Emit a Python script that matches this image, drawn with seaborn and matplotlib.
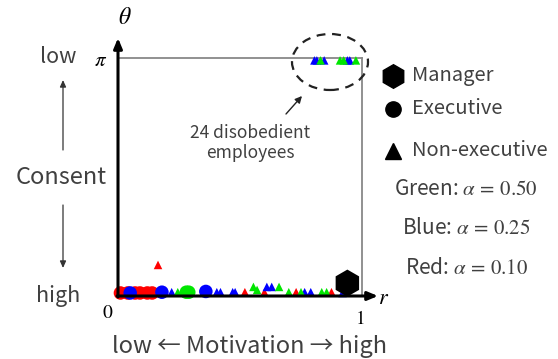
import numpy as np
import pandas as pd
import matplotlib
matplotlib.use("Agg")
import matplotlib.pyplot as plt
from matplotlib.patches import Ellipse
import seaborn as sns

# ---- data ----
# bottom row (obedient employees), r = motivation, theta = consent angle
red_exec_r = [0.01, 0.04, 0.07, 0.09, 0.12, 0.14]
red_exec_t = [0.04, 0.04, 0.04, 0.04, 0.04, 0.04]
blue_exec_r = [0.05, 0.18, 0.36]
blue_exec_t = [0.04, 0.05, 0.06]
green_exec_r = [0.28, 0.29]
green_exec_t = [0.05, 0.05]

red_tri_r = [0.164, 0.52, 0.60, 0.73, 0.875]
red_tri_t = [0.41, 0.05, 0.05, 0.05, 0.05]
blue_tri_r = [0.22, 0.405, 0.42, 0.47, 0.48, 0.61, 0.63, 0.765, 0.79, 0.92]
blue_tri_t = [0.05, 0.05, 0.05, 0.05, 0.05, 0.12, 0.12, 0.05, 0.05, 0.04]
green_tri_r = [0.245, 0.555, 0.57, 0.66, 0.70, 0.75, 0.835, 0.855]
green_tri_t = [0.05, 0.12, 0.08, 0.12, 0.05, 0.05, 0.05, 0.05]

# top row (24 disobedient employees)
top_blue_r = [0.805, 0.815, 0.845, 0.94, 0.95]
top_green_r = [0.83, 0.91, 0.925, 0.975]
top_theta = 3.11

manager_r = [0.94]
manager_t = [0.17]

legend_roles = ["Manager", "Executive", "Non-executive"]
alpha_labels = ["Green: $\\alpha\\,=\\,0.50$", "Blue: $\\alpha\\,=\\,0.25$",
                "Red: $\\alpha\\,=\\,0.10$"]


def rows(r, t, colour, role):
    if np.isscalar(t):
        t = [t] * len(r)
    return [{"r": a, "theta": b, "colour": colour, "role": role} for a, b in zip(r, t)]


records = []
records += rows(red_exec_r, red_exec_t, "red", "Executive")
records += rows(blue_exec_r, blue_exec_t, "blue", "Executive")
records += rows(green_exec_r, green_exec_t, "green", "Executive")
records += rows(red_tri_r, red_tri_t, "red", "Non-executive")
records += rows(blue_tri_r, blue_tri_t, "blue", "Non-executive")
records += rows(green_tri_r, green_tri_t, "green", "Non-executive")
records += rows(top_blue_r, top_theta, "blue", "Non-executive")
records += rows(top_green_r, top_theta, "green", "Non-executive")
records += rows(manager_r, manager_t, "black", "Manager")
df = pd.DataFrame(records)

sns.set_style("white")
plt.rcParams["font.family"] = ["Noto Sans CJK JP", "DejaVu Sans"]
plt.rcParams["mathtext.fontset"] = "stix"

W, H = 558, 359
fig = plt.figure(figsize=(W / 100, H / 100), dpi=100)
x0, x1, y0, y1 = 118, 362, 296, 58
ax = fig.add_axes([x0 / W, 1 - y0 / H, (x1 - x0) / W, (y0 - y1) / H])

palette = {"red": "#ff0000", "blue": "#0000ff", "green": "#00e600", "black": "#000000"}
markers = {"Manager": "h", "Executive": "o", "Non-executive": "^"}
sizes = {"Manager": 380, "Executive": 95, "Non-executive": 38}
sns.scatterplot(data=df, x="r", y="theta", hue="colour", style="role", size="role",
                palette=palette, markers=markers, sizes=sizes, linewidth=0,
                legend=False, ax=ax, clip_on=False, zorder=3)

ax.set_xlim(0, 1)
ax.set_ylim(0, np.pi)
ax.set_xticks([])
ax.set_yticks([])
ax.set_xlabel("")
ax.set_ylabel("")
for s in ["left", "bottom"]:
    ax.spines[s].set_visible(False)
for s in ["top", "right"]:
    ax.spines[s].set_color("#888888")
    ax.spines[s].set_linewidth(1.3)


def axf(px, py):
    return ((px - x0) / (x1 - x0), (y0 - py) / (y0 - y1))


# axis arrows
arr = dict(arrowstyle="-|>,head_width=0.25,head_length=0.6", color="black", lw=2.2,
           shrinkA=0, shrinkB=0)
ax.annotate("", xy=axf(118, 38), xytext=axf(118, 297), xycoords="axes fraction",
            textcoords="axes fraction", arrowprops=arr, annotation_clip=False, zorder=5)
ax.annotate("", xy=axf(378, 296), xytext=axf(117, 296), xycoords="axes fraction",
            textcoords="axes fraction", arrowprops=arr, annotation_clip=False, zorder=5)

txt = "#404040"
ax.text(*axf(125, 18), r"$\theta$", transform=ax.transAxes, fontsize=17,
        ha="center", va="center", color="black")
ax.text(*axf(384, 297), r"$r$", transform=ax.transAxes, fontsize=16,
        ha="center", va="center", color="black")
ax.text(*axf(101, 60), r"$\pi$", transform=ax.transAxes, fontsize=15,
        ha="center", va="center", color="black")
ax.text(*axf(108, 312), r"$0$", transform=ax.transAxes, fontsize=14,
        ha="center", va="center", color="black")
ax.text(*axf(360, 318), r"$1$", transform=ax.transAxes, fontsize=14,
        ha="center", va="center", color="black")

ax.text(*axf(58, 57), "low", transform=ax.transAxes, fontsize=15.5, ha="center",
        va="center", color=txt)
ax.text(*axf(61, 177), "Consent", transform=ax.transAxes, fontsize=17, ha="center",
        va="center", color=txt)
ax.text(*axf(58, 296), "high", transform=ax.transAxes, fontsize=15.5, ha="center",
        va="center", color=txt)
thin = dict(arrowstyle="-|>,head_width=0.18,head_length=0.4", color="#333333", lw=0.9,
            shrinkA=0, shrinkB=0)
ax.annotate("", xy=axf(63, 80), xytext=axf(63, 150), xycoords="axes fraction",
            textcoords="axes fraction", arrowprops=thin, annotation_clip=False)
ax.annotate("", xy=axf(63, 268), xytext=axf(63, 205), xycoords="axes fraction",
            textcoords="axes fraction", arrowprops=thin, annotation_clip=False)

ax.text(*axf(249, 346), "low \u2190 Motivation \u2192 high", transform=ax.transAxes,
        fontsize=17, ha="center", va="center", color=txt)

# disobedient group
ell = Ellipse(axf(330, 62), width=76 / (x1 - x0), height=56 / (y0 - y1),
              transform=ax.transAxes, fill=False, ls=(0, (4, 3)), lw=1.6,
              color="#222222", clip_on=False, zorder=4)
ax.add_patch(ell)
ax.annotate("", xy=axf(302, 96), xytext=axf(286, 114), xycoords="axes fraction",
            textcoords="axes fraction", annotation_clip=False,
            arrowprops=dict(arrowstyle="-|>,head_width=0.2,head_length=0.4",
                            color="#222222", lw=1.0, shrinkA=0, shrinkB=0))
ax.text(*axf(250, 143), "24 disobedient\nemployees", transform=ax.transAxes,
        fontsize=12.5, ha="center", va="center", color=txt, linespacing=1.15)

# legend
leg_y = [76, 109, 151]
leg_ms = [17, 11, 11]
for role, py, ms in zip(legend_roles, leg_y, leg_ms):
    ax.plot(*axf(393, py), marker=markers[role], color="black", ms=ms,
            transform=ax.transAxes, clip_on=False, ls="none")
    ax.text(*axf(412, py), role, transform=ax.transAxes, fontsize=14.5,
            ha="left", va="center", color=txt)
for lab, py in zip(alpha_labels, [189, 228, 268]):
    ax.text(*axf(466, py), lab, transform=ax.transAxes, fontsize=15,
            ha="center", va="center", color=txt)

fig.savefig("out.png", dpi=100)
